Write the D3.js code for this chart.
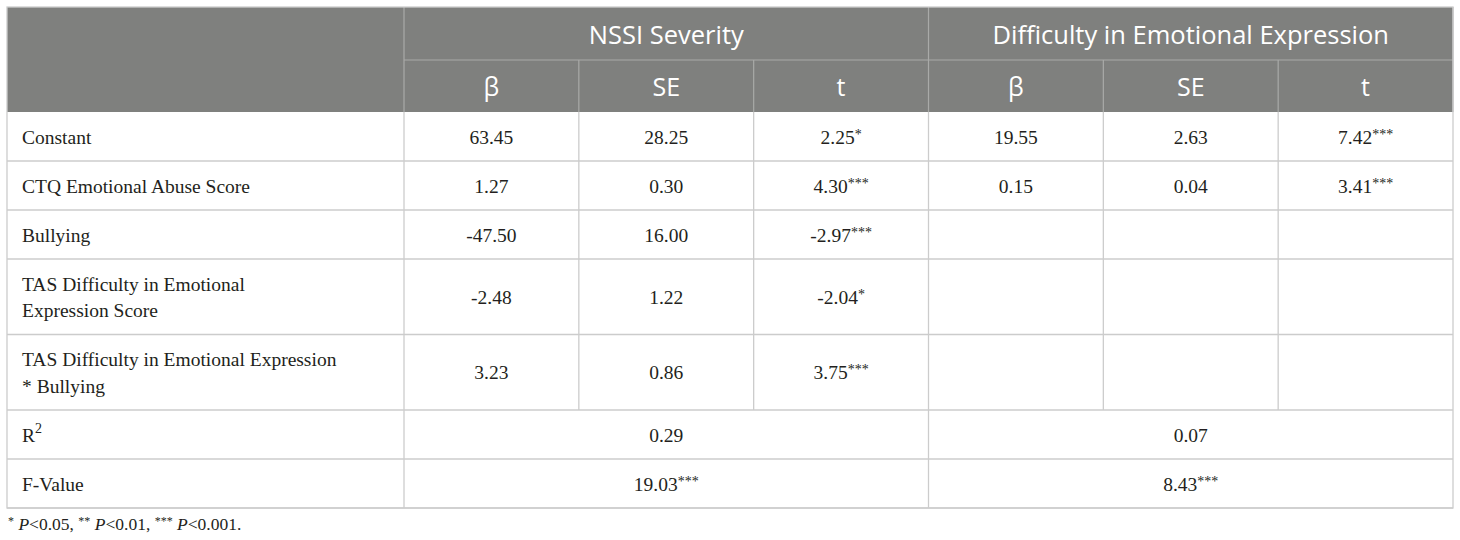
<!DOCTYPE html>
<html>
<head>
<meta charset="utf-8">
<script src="https://cdn.jsdelivr.net/npm/d3@7"></script>
<style>
  html, body { margin: 0; padding: 0; background: #fff; }
  svg { display: block; }
</style>
</head>
<body>
<svg id="tbl" width="1460" height="540"></svg>
<script>
// ---- data ----
const groups = ["NSSI Severity", "Difficulty in Emotional Expression"];
const statCols = ["β", "SE", "t"];
const rowLabels = [
  ["Constant"],
  ["CTQ Emotional Abuse Score"],
  ["Bullying"],
  ["TAS Difficulty in Emotional", "Expression Score"],
  ["TAS Difficulty in Emotional Expression", "* Bullying"]
];
const nssiBeta = ["63.45", "1.27", "-47.50", "-2.48", "3.23"];
const nssiSE   = ["28.25", "0.30", "16.00", "1.22", "0.86"];
const nssiT    = [["2.25", "*"], ["4.30", "***"], ["-2.97", "***"], ["-2.04", "*"], ["3.75", "***"]];
const deeBeta  = ["19.55", "0.15", "", "", ""];
const deeSE    = ["2.63", "0.04", "", "", ""];
const deeT     = [["7.42", "***"], ["3.41", "***"], ["", ""], ["", ""], ["", ""]];
const rSquared = ["0.29", "0.07"];
const fValue   = [["19.03", "***"], ["8.43", "***"]];

// ---- layout ----
const svg = d3.select("#tbl");
const tblLeft = 7, tblRight = 1453, tblTop = 7, labelW = 397;
const headH = [53, 52];
const lineH = 26.5;
const rowH = n => 22.5 + lineH * n;

const colX = d3.scaleBand().domain(d3.range(6)).range([tblLeft + labelW, tblRight]);
const groupX = d3.scaleBand().domain(d3.range(2)).range([tblLeft + labelW, tblRight]);

// body rows: 5 coefficient rows + R2 + F
const bodyRows = rowLabels.map((lab, i) => ({
  label: lab,
  cells: [nssiBeta[i], nssiSE[i], nssiT[i], deeBeta[i], deeSE[i], deeT[i]].map(v => Array.isArray(v) ? v : [v, ""]),
  span: false
}));
bodyRows.push({ label: [["R", "2"]], cells: rSquared.map(v => [v, ""]), span: true });
bodyRows.push({ label: ["F-Value"], cells: fValue, span: true });

let yPos = tblTop + headH[0] + headH[1];
bodyRows.forEach(r => { r.y = yPos; r.h = rowH(r.label.length); yPos += r.h; });
const tblBottom = yPos;

const serif = "'Liberation Serif', 'DejaVu Serif', serif";
const sans = "'Open Sans', 'Noto Sans', sans-serif";
const gridC = "#cccccc";

// header background
svg.append("rect")
  .attr("x", tblLeft).attr("y", tblTop)
  .attr("width", tblRight - tblLeft).attr("height", headH[0] + headH[1])
  .attr("fill", "#7f807e");

// header lines
const hl = svg.append("g").attr("stroke", "#a9aaa8").attr("stroke-width", 1.2);
hl.append("line")
  .attr("x1", tblLeft + labelW).attr("x2", tblRight)
  .attr("y1", tblTop + headH[0]).attr("y2", tblTop + headH[0]);
d3.range(7).forEach(i => {
  const x = i < 6 ? colX(i) : tblRight;
  const y1 = (i % 3 === 0) ? tblTop : tblTop + headH[0];
  hl.append("line").attr("x1", x).attr("x2", x).attr("y1", y1).attr("y2", tblTop + headH[0] + headH[1]);
});

// header text
svg.selectAll("text.grp").data(groups).join("text")
  .attr("class", "grp")
  .attr("x", (d, i) => groupX(i) + groupX.bandwidth() / 2)
  .attr("y", tblTop + headH[0] / 2)
  .attr("text-anchor", "middle").attr("dominant-baseline", "central")
  .attr("font-family", sans).attr("font-size", 25.5).attr("fill", "#fff")
  .text(d => d);

svg.selectAll("text.stat").data(d3.range(6)).join("text")
  .attr("class", "stat")
  .attr("x", i => colX(i) + colX.bandwidth() / 2)
  .attr("y", tblTop + headH[0] + headH[1] / 2)
  .attr("text-anchor", "middle").attr("dominant-baseline", "central")
  .attr("font-family", sans).attr("font-size", 25).attr("fill", "#fff")
  .text(i => statCols[i % 3]);

// body grid
const grid = svg.append("g").attr("stroke", gridC).attr("stroke-width", 1.3).attr("fill", "none");
bodyRows.forEach(r => {
  grid.append("line").attr("x1", tblLeft).attr("x2", tblRight).attr("y1", r.y + r.h).attr("y2", r.y + r.h);
  const xs = r.span ? [groupX(1)] : d3.range(1, 6).map(i => colX(i));
  xs.concat([tblLeft + labelW]).forEach(x =>
    grid.append("line").attr("x1", x).attr("x2", x).attr("y1", r.y).attr("y2", r.y + r.h));
});
grid.append("rect")
  .attr("x", tblLeft).attr("y", tblTop)
  .attr("width", tblRight - tblLeft).attr("height", tblBottom - tblTop);

// body text
const body = svg.append("g")
  .attr("font-family", serif).attr("font-size", 19.5).attr("fill", "#231f20");

function addText(g, x, yc, main, sup, anchor, supDy) {
  const t = g.append("text")
    .attr("x", x).attr("y", yc)
    .attr("text-anchor", anchor).attr("dominant-baseline", "central");
  t.append("tspan").text(main);
  if (sup) t.append("tspan").attr("font-size", 14).attr("dy", supDy || -3).text(sup);
  return t;
}

bodyRows.forEach(r => {
  const n = r.label.length;
  const y0 = r.y + r.h / 2 - (n - 1) * lineH / 2;
  r.label.forEach((l, k) => {
    const [main, sup] = Array.isArray(l) ? l : [l, ""];
    addText(body, tblLeft + 15, y0 + k * lineH, main, sup, "start", -7);
  });
  const scale = r.span ? groupX : colX;
  r.cells.forEach((c, i) => {
    if (!c[0]) return;
    addText(body, scale(i) + scale.bandwidth() / 2, r.y + r.h / 2, c[0], c[1], "middle");
  });
});

// footnote
const note = svg.append("text")
  .attr("x", tblLeft + 1).attr("y", tblBottom + 16)
  .attr("dominant-baseline", "central")
  .attr("font-family", serif).attr("font-size", 17.5).attr("fill", "#231f20");
[["*", " "], ["P", "<0.05, "], ["**", " "], ["P", "<0.01, "], ["***", " "], ["P", "<0.001."]].forEach(([a, b], k) => {
  if (k % 2 === 0) {
    note.append("tspan").attr("font-size", 12).attr("dy", -3).text(a);
    note.append("tspan").attr("dy", 3).text(b);
  } else {
    note.append("tspan").attr("font-style", "italic").text(a);
    note.append("tspan").text(b);
  }
});
</script>
</body>
</html>
